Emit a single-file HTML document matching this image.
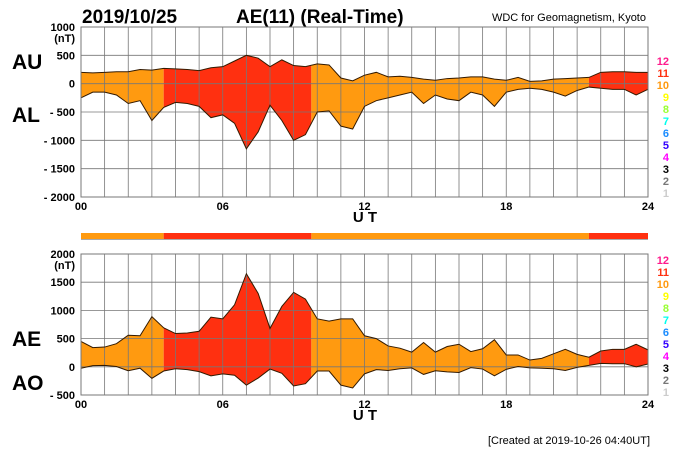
<!DOCTYPE html>
<html><head><meta charset="utf-8"><style>
body{margin:0;background:#fff;font-family:"Liberation Sans",Arial,sans-serif}
svg text{font-family:"Liberation Sans",Arial,sans-serif}
</style></head><body>
<svg id="c" width="700" height="450" viewBox="0 0 700 450" xmlns="http://www.w3.org/2000/svg">
<text x="82" y="23" font-size="19" font-weight="bold">2019/10/25</text>
<text x="236" y="23" font-size="19" font-weight="bold">AE(11) (Real-Time)</text>
<text x="646" y="21" font-size="11" text-anchor="end">WDC for Geomagnetism, Kyoto</text>
<text x="12" y="69" font-size="21" font-weight="bold">AU</text>
<text x="12" y="122" font-size="21" font-weight="bold">AL</text>
<text x="12" y="346" font-size="21" font-weight="bold">AE</text>
<text x="12" y="390" font-size="21" font-weight="bold">AO</text>
<text x="650" y="444" font-size="11" text-anchor="end">[Created at 2019-10-26 04:40UT]</text>
<g id="top"></g><g id="bot"></g><g id="bar"></g>
</svg>
<script>
const hours=[0,0.5,1,1.5,2,2.5,3,3.5,4,4.5,5,5.5,6,6.5,7,7.5,8,8.5,9,9.5,10,10.5,11,11.5,12,12.5,13,13.5,14,14.5,15,15.5,16,16.5,17,17.5,18,18.5,19,19.5,20,20.5,21,21.5,22,22.5,23,23.5,24];
const auValues=[200,190,200,210,210,250,240,270,260,250,230,280,300,400,500,450,300,420,320,300,350,330,100,50,150,200,120,130,110,80,60,90,100,120,120,80,60,110,40,50,80,90,100,110,200,210,210,200,200];
const alValues=[-250,-150,-150,-200,-350,-300,-650,-420,-330,-350,-400,-600,-550,-700,-1150,-850,-380,-650,-1000,-900,-500,-480,-750,-800,-400,-300,-250,-200,-150,-350,-200,-270,-300,-150,-200,-400,-150,-100,-80,-100,-150,-220,-120,-60,-80,-100,-100,-200,-100];
const segStarts=[0,3.5,9.75,21.5];
const segEnds=[3.5,9.75,21.5,24];
const segLevels=[10,11,10,11];
const levelLabels=['12','11','10','9','8','7','6','5','4','3','2','1'];
const levelColors=['#ff1a8c','#ff3010','#ff9a10','#ffff00','#99ff33','#00ffee','#1a8cff','#3300ff','#ff00ff','#000000','#777777','#cccccc'];
const topTicks=[1000,500,0,-500,-1000,-1500,-2000];
const botTicks=[2000,1500,1000,500,0,-500];
const xTicks=[0,6,12,18,24];
const xTickLabels=['00','06','12','18','24'];
const NS='http://www.w3.org/2000/svg';
const X0=81,X1=648;
const xs=h=>X0+(X1-X0)*h/24;
function mk(p,t,a){const e=document.createElementNS(NS,t);for(const k in a)e.setAttribute(k,a[k]);p.appendChild(e);return e;}
function colorOf(l){return levelColors[12-l];}
function panel(g,id,top,bottom,vmax,vmin,ticks,upper,lower,legendTop){
  const ys=v=>top+(vmax-v)/(vmax-vmin)*(bottom-top);
  const bg=mk(g,'rect',{x:X0,y:top,width:X1-X0,height:bottom-top,fill:'#fff',stroke:'#888'});
  
  
  const cp=mk(g,'clipPath',{id:id+'clip'});
  let d='M'+hours.map((h,i)=>xs(h)+','+ys(upper[i])).join('L');
  for(let i=hours.length-1;i>=0;i--)d+='L'+xs(hours[i])+','+ys(lower[i]);
  d+='Z';
  mk(cp,'path',{d:d});
  segStarts.forEach((s,i)=>{
    const r=mk(g,'rect',{x:xs(s),y:top,width:xs(segEnds[i])-xs(s),height:bottom-top,fill:colorOf(segLevels[i]),'clip-path':'url(#'+id+'clip)'});
    
    
  });
  for(let h=1;h<24;h++){const l=mk(g,'line',{x1:xs(h),x2:xs(h),y1:top,y2:bottom,stroke:'#777','stroke-width':0.8});}
  ticks.forEach(v=>{
    const l=mk(g,'line',{x1:X0,x2:X1,y1:ys(v),y2:ys(v),stroke:'#777','stroke-width':0.8});
    
    
    const t=mk(g,'text',{x:75,y:ys(v)+4,'font-size':11,'font-weight':'bold','text-anchor':'end'});
    t.textContent=(v<0?'- '+(-v):''+v);
    
    
  });
  const nt=mk(g,'text',{x:75,y:ys(ticks[0])+15,'font-size':11,'font-weight':'bold','text-anchor':'end'});nt.textContent='(nT)';
  
  
  const lu=mk(g,'path',{d:'M'+hours.map((h,i)=>xs(h)+','+ys(upper[i])).join('L'),fill:'none',stroke:'#331a00','stroke-width':1});
  
  
  const ll=mk(g,'path',{d:'M'+hours.map((h,i)=>xs(h)+','+ys(lower[i])).join('L'),fill:'none',stroke:'#331a00','stroke-width':1});
  
  
  mk(g,'rect',{x:X0,y:top,width:X1-X0,height:bottom-top,fill:'none',stroke:'#777'});
  xTicks.forEach((h,i)=>{
    const t=mk(g,'text',{x:xs(h),y:bottom+13,'font-size':11,'font-weight':'bold','text-anchor':'middle'});
    t.textContent=xTickLabels[i];
    
    
  });
  const ut=mk(g,'text',{x:365,y:bottom+25,'font-size':15,'font-weight':'bold','text-anchor':'middle'});ut.textContent='U T';
  
  
  levelLabels.forEach((lb,i)=>{
    const t=mk(g,'text',{x:669,y:legendTop+i*12,'font-size':11,'font-weight':'bold','text-anchor':'end',fill:levelColors[i]});
    t.textContent=lb;
    
    
  });
}
panel(document.getElementById('top'),'aual',27,197,1000,-2000,topTicks,auValues,alValues,65);
const aeValues=auValues.map((u,i)=>u-alValues[i]);
const aoValues=auValues.map((u,i)=>(u+alValues[i])/2);
panel(document.getElementById('bot'),'aeao',254,395,2000,-500,botTicks,aeValues,aoValues,264);
const bar=document.getElementById('bar');
segStarts.forEach((s,i)=>{
  const r=mk(bar,'rect',{x:xs(s),y:233,width:xs(segEnds[i])-xs(s),height:6,fill:colorOf(segLevels[i])});
  
  
});
mk(bar,'line',{x1:X0,x2:X1,y1:239.5,y2:239.5,stroke:'#aaa'});
</script>
</body></html>
